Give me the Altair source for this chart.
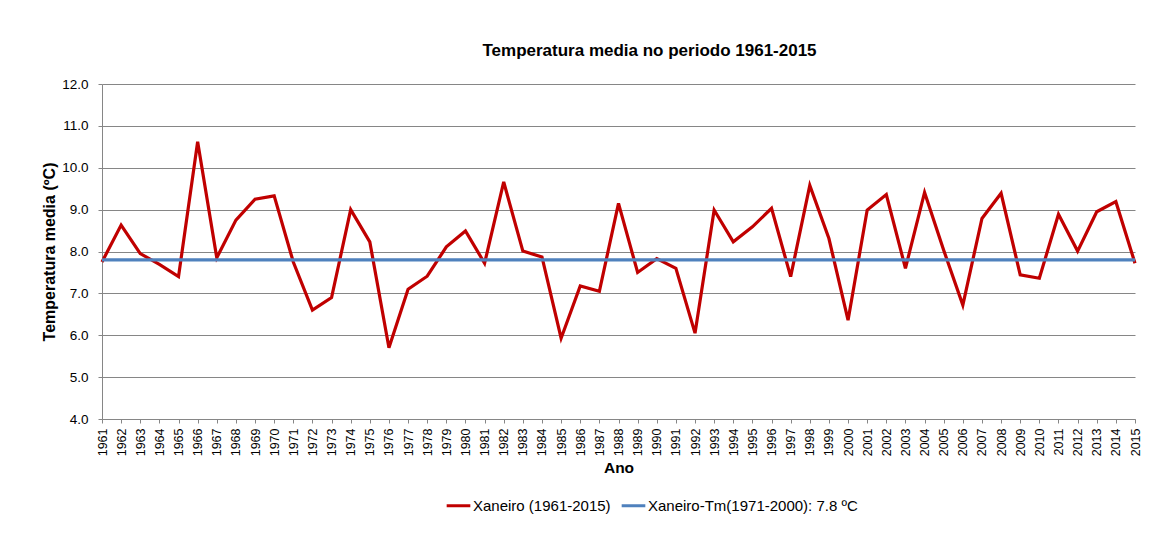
import altair as alt
import pandas as pd

years = list(range(1961, 2016))
temps = [7.75, 8.63, 7.95, 7.69, 7.40, 10.62, 7.85, 8.75, 9.25, 9.33,
         7.75, 6.60, 6.90, 9.00, 8.23, 5.70, 7.10, 7.41, 8.11, 8.49,
         7.72, 9.66, 8.01, 7.87, 5.93, 7.18, 7.05, 9.15, 7.50, 7.83,
         7.60, 6.05, 8.99, 8.23, 8.59, 9.03, 7.40, 9.58, 8.31, 6.36,
         8.99, 9.36, 7.60, 9.41, 8.03, 6.72, 8.79, 9.39, 7.44, 7.36,
         8.89, 8.01, 8.95, 9.19, 7.72]
mean_years = [1961, 2015]
mean_value = 7.8
series_names = ["Xaneiro (1961-2015)", "Xaneiro-Tm(1971-2000): 7.8 ºC"]
series_colors = ["#C00000", "#4F81BD"]
y_ticks = [4, 5, 6, 7, 8, 9, 10, 11, 12]

df = pd.concat([
    pd.DataFrame({"year": years, "temp": temps, "series": series_names[0], "ord": 0}),
    pd.DataFrame({"year": mean_years, "temp": [mean_value] * 2, "series": series_names[1], "ord": 1}),
])

FONT = "Liberation Sans"
GRAY = "#868686"

chart = alt.Chart(df).mark_line(strokeWidth=3.2).encode(
    x=alt.X("year:Q",
            scale=alt.Scale(domain=[1961, 2015], nice=False, zero=False),
            axis=alt.Axis(values=years, format="d", labelAngle=270, title="Ano",
                          grid=False, tickSize=4, labelPadding=5, titlePadding=5,
                          labelFontSize=12.5, titleFontSize=15.5, labelFlush=False,
                          labelOverlap=False)),
    y=alt.Y("temp:Q",
            scale=alt.Scale(domain=[4, 12], nice=False, zero=False),
            axis=alt.Axis(values=y_ticks, format=".1f", title="Temperatura media  (ºC)",
                          grid=True, tickSize=4, labelPadding=10, titlePadding=4,
                          labelFontSize=13.5, titleFontSize=16)),
    color=alt.Color("series:N",
                    scale=alt.Scale(domain=series_names, range=series_colors),
                    legend=alt.Legend(title=None, orient="none", direction="horizontal",
                                      legendX=343, legendY=408, symbolType="stroke",
                                      symbolStrokeWidth=3, symbolSize=560,
                                      labelFontSize=15, columnPadding=4,
                                      labelOffset=1, labelLimit=0)),
    order=alt.Order("ord:Q"),
).properties(
    width=1033,
    height=335,
    title=alt.TitleParams("Temperatura media no periodo 1961-2015", fontSize=17,
                          fontWeight="bold", font=FONT, anchor="middle", dx=31,
                          offset=17, color="black"),
    autosize=alt.AutoSizeParams(type="none"),
    padding={"left": 94, "top": 76, "right": 25, "bottom": 105},
).configure_view(stroke=None).configure_axis(
    labelFont=FONT, titleFont=FONT, labelColor="black", titleColor="black",
    domainColor=GRAY, tickColor=GRAY, gridColor=GRAY, gridWidth=1,
    titleFontWeight="bold",
).configure_legend(labelFont=FONT, labelColor="black")

chart.save("out.html", embed_options={"renderer": "svg", "actions": False})
